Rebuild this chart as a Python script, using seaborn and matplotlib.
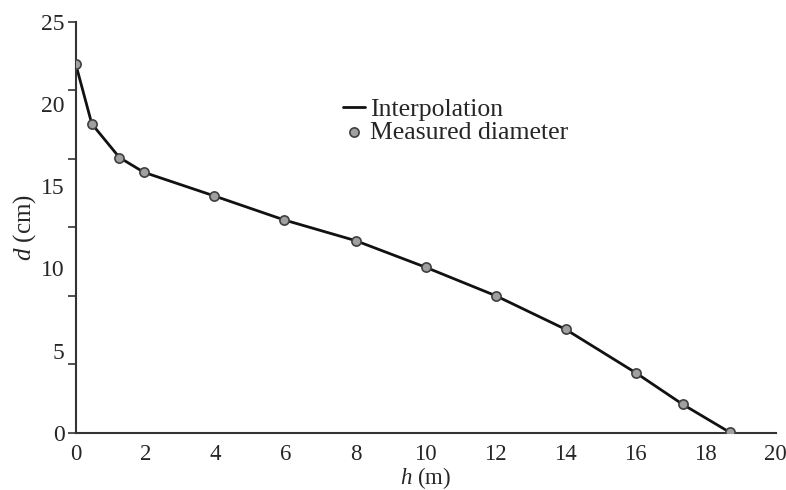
import numpy as np
import pandas as pd
import matplotlib
matplotlib.use("Agg")
import matplotlib.pyplot as plt
import seaborn as sns

# measured stem diameters along the height
height_m = [0, 0.46, 1.25, 1.95, 3.95, 5.96, 8, 10, 12, 14, 16, 17.34, 18.69]
diam_cm = [22.45, 18.8, 16.75, 15.85, 14.42, 12.95, 11.69, 10.07, 8.34, 6.29, 3.65, 1.73, 0.02]

x_ticks = list(range(0, 21, 2))
y_labels = [0, 5, 10, 15, 20, 25]

df = pd.DataFrame({"h": height_m, "d": diam_cm})

sns.set_theme(style="white")
plt.rcParams["font.family"] = ["Liberation Serif", "DejaVu Serif"]
plt.rcParams["mathtext.fontset"] = "custom"
plt.rcParams["mathtext.it"] = "Liberation Serif:italic"
plt.rcParams["mathtext.rm"] = "Liberation Serif"

fig = plt.figure(figsize=(7.86, 4.9), dpi=100)
ax = fig.add_axes([0.0963, 0.1169, 0.8906, 0.8382])

sns.lineplot(data=df, x="h", y="d", ax=ax, color="#111111", linewidth=2.0,
             label="Interpolation")
sns.scatterplot(data=df, x="h", y="d", ax=ax, color="#a0a0a0", edgecolor="#404040",
                linewidth=1.2, s=44, zorder=3, label="Measured diameter")

ax.set_xlim(0, 20)
ax.set_ylim(0, 25)

ax.set_xticks(x_ticks)
ax.set_yticks(y_labels)
ax.set_yticks(np.linspace(0, 25, 7), minor=True)
ax.yaxis.remove_overlapping_locs = False
ax.tick_params(axis="x", which="major", direction="in", length=5, width=1.2,
               color="#333333", labelsize=16.5, pad=8)
ax.tick_params(axis="y", which="major", length=0, labelsize=17, pad=8)
ax.tick_params(axis="y", which="minor", direction="out", length=6, width=1.2,
               color="#333333", left=True)

for s in ["top", "right"]:
    ax.spines[s].set_visible(False)
for s in ["left", "bottom"]:
    ax.spines[s].set_color("#333333")
    ax.spines[s].set_linewidth(1.5)

ax.set_xlabel("$\\mathit{h}$ (m)", fontsize=16.5, labelpad=0)
ax.set_ylabel("$\\mathit{d}$ (cm)", fontsize=18, labelpad=2)

ax.legend(loc="upper left", bbox_to_anchor=(0.42, 0.827), bbox_transform=fig.transFigure,
          frameon=False, fontsize=18.5, handlelength=0.85, handletextpad=0.2,
          labelspacing=0.0, borderpad=0)

fig.savefig("out.png", dpi=100, facecolor="white")
